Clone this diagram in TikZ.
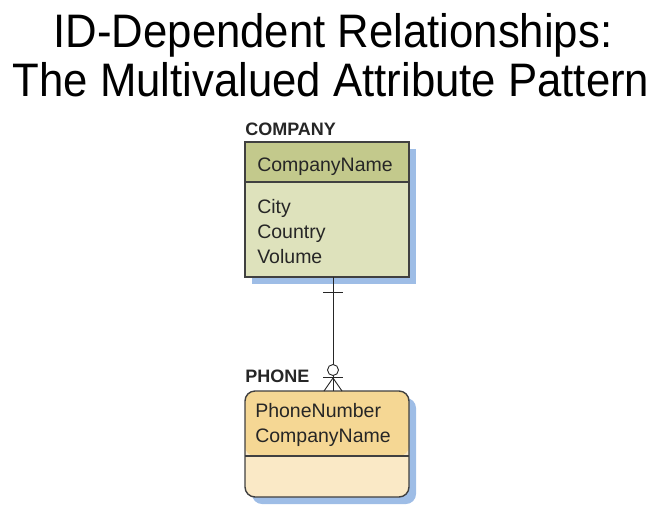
\documentclass[tikz,border=0pt]{standalone}
\usepackage{fontspec}
\setmainfont{Liberation Sans}
\newfontfamily\titlefont[FakeStretch=0.93]{Liberation Sans}
\usepackage{tikz}
\usetikzlibrary{positioning,arrows,shadows}

\definecolor{compHead}{RGB}{195,201,140}
\definecolor{compBody}{RGB}{222,226,188}
\definecolor{phoneHead}{RGB}{245,215,148}
\definecolor{phoneBody}{RGB}{250,233,198}
\definecolor{shadowBlue}{RGB}{158,189,230}
\definecolor{edgeGray}{RGB}{64,64,64}

\begin{document}
\begin{tikzpicture}[x=1pt,y=-1pt,semithick]
        \tikzstyle{entity}=[draw=edgeGray,line width=1.4pt,minimum width=164pt,inner sep=0pt,outer sep=0pt,anchor=north west,
                drop shadow={fill=shadowBlue,opacity=1,shadow xshift=7pt,shadow yshift=-7pt}]
        \tikzstyle{attr}=[anchor=base west,inner sep=0pt,text=black!85,font=\fontsize{19.5}{23}\selectfont]
        \tikzstyle{ename}=[anchor=base west,inner sep=0pt,text=black!85,font=\bfseries\fontsize{18}{22}\selectfont]
        \tikzstyle{rel}=[black!85,line width=0.9pt]

        \useasboundingbox (0,0) rectangle (661,507);

        % title
        \node[anchor=base,inner sep=0pt,font=\titlefont\fontsize{47}{52}\selectfont] (title1) at (333,47) {ID-Dependent Relationships:};
        \node[anchor=base,inner sep=0pt,font=\titlefont\fontsize{47}{52}\selectfont] (title2) at (331,96) {The Multivalued Attribute Pattern};

        % COMPANY
        \node[entity,minimum height=135pt,fill=compBody,
              path picture={\fill[compHead] (path picture bounding box.north west) rectangle ([yshift=-40pt]path picture bounding box.north east);}]
              (company) at (245,142) {};
        \draw[edgeGray,line width=1.4pt] ([yshift=-40pt]company.north west) -- ([yshift=-40pt]company.north east);
        \node[ename] (companylbl) at (245,135) {COMPANY};
        \node[attr]  (cname)   at (257,171) {CompanyName};
        \node[attr]  (city)    at (257,213) {City};
        \node[attr]  (country) at (257,238) {Country};
        \node[attr]  (volume)  at (257,263) {Volume};

        % PHONE
        \node[entity,minimum height=106pt,fill=phoneBody,rounded corners=10pt,
              path picture={\fill[phoneHead] (path picture bounding box.north west) rectangle ([yshift=-65pt]path picture bounding box.north east);}]
              (phone) at (245,391) {};
        \draw[edgeGray,line width=1.4pt] ([yshift=-65pt]phone.north west) -- ([yshift=-65pt]phone.north east);
        \node[ename] (phonelbl) at (245,382) {PHONE};
        \node[attr]  (pnumber) at (255,417) {PhoneNumber};
        \node[attr]  (pcname)  at (255,442) {CompanyName};

        % relationship
        \coordinate (ctop) at ([xshift=6pt]company.south);
        \coordinate (pbot) at ([xshift=6pt]phone.north);
        \draw[rel] (ctop) -- (pbot);
        \draw[rel] ([shift={(-10pt,-15pt)}]ctop) -- ([shift={(10pt,-15pt)}]ctop);
        \draw[rel] ([shift={(-10pt,14pt)}]pbot) -- ([shift={(10pt,14pt)}]pbot);
        \draw[rel] ([shift={(-9pt,0pt)}]pbot) -- ([yshift=13pt]pbot) -- ([shift={(9pt,0pt)}]pbot);
        \draw[rel,fill=white] ([yshift=21pt]pbot) circle (5.5);
\end{tikzpicture}
\end{document}
